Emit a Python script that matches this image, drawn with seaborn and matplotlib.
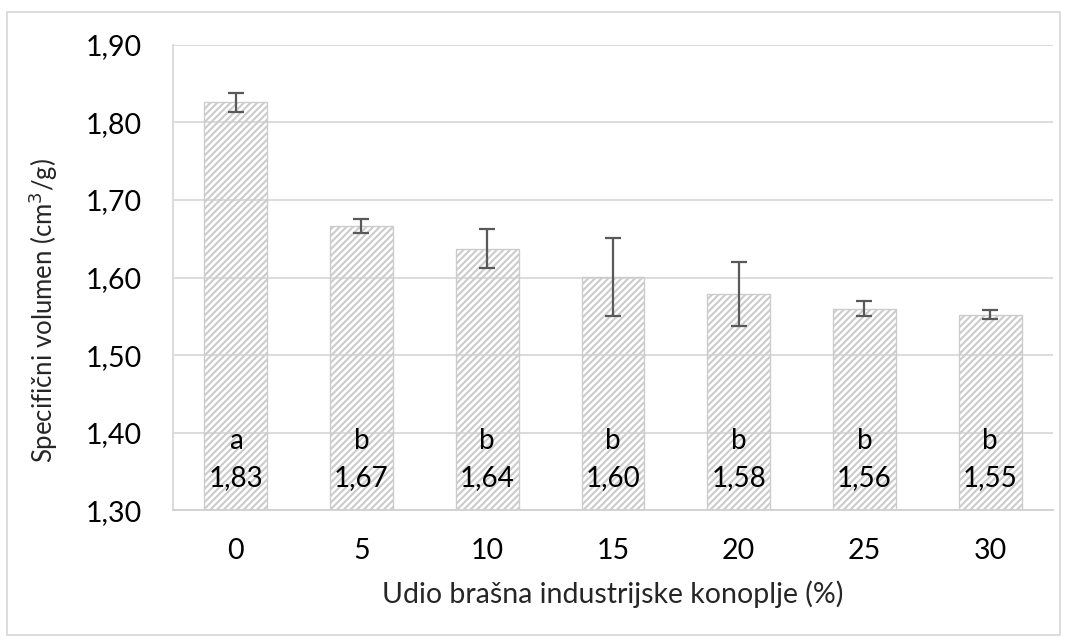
import numpy as np
import pandas as pd
import seaborn as sns
import matplotlib.pyplot as plt
import matplotlib.patches as mpatches
from matplotlib.ticker import FuncFormatter

# data
udio = ["0", "5", "10", "15", "20", "25", "30"]
volumen = [1.826, 1.667, 1.637, 1.601, 1.579, 1.560, 1.552]
sd = [0.012, 0.009, 0.025, 0.050, 0.041, 0.010, 0.006]
slova = ["a", "b", "b", "b", "b", "b", "b"]
oznake = ["1,83", "1,67", "1,64", "1,60", "1,58", "1,56", "1,55"]

sns.set_style("white")
plt.rcParams['font.family'] = ['Lato', 'DejaVu Sans']
plt.rcParams['hatch.color'] = '#c8c8c8'
plt.rcParams['hatch.linewidth'] = 1.5

df = pd.DataFrame({'udio': udio, 'volumen': volumen})

fig = plt.figure(figsize=(10.67, 6.41), dpi=100)
ax = fig.add_axes([0.162, 0.204, 0.825, 0.726])

sns.barplot(data=df, x='udio', y='volumen', order=udio, width=0.5,
            color='white', ax=ax, zorder=2)
for p in ax.patches:
    p.set_facecolor('none')
    p.set_edgecolor('#cccccc')
    p.set_hatch('/////')
    p.set_linewidth(1.0)

# error bars
xs = np.arange(len(udio))
ax.errorbar(xs, volumen, yerr=sd, fmt='none', ecolor='#595959',
            elinewidth=1.6, capsize=6, capthick=1.6, zorder=3)

# letters and values inside bars
for i in range(len(udio)):
    ax.text(xs[i], 1.389, slova[i], ha='center', va='center', fontsize=20, color='black', zorder=4)
    ax.text(xs[i], 1.341, oznake[i], ha='center', va='center', fontsize=20, color='black', zorder=4)

ax.set_ylim(1.30, 1.90)
ax.set_yticks(np.arange(1.30, 1.901, 0.10))
ax.yaxis.set_major_formatter(FuncFormatter(lambda v, pos: f"{v:.2f}".replace('.', ',')))
ax.set_xlim(-0.5, len(udio) - 0.5)
ax.grid(axis='y', color='#d9d9d9', linewidth=1.3, zorder=0)
ax.set_axisbelow(True)

for s in ['top', 'right']:
    ax.spines[s].set_visible(False)
ax.spines['left'].set_color('#d9d9d9')
ax.spines['left'].set_linewidth(1.3)
ax.spines['bottom'].set_color('#d0d0d0')
ax.spines['bottom'].set_linewidth(1.3)
ax.tick_params(axis='y', length=0, labelsize=20.5, pad=22, colors='black')
ax.tick_params(axis='x', length=0, labelsize=20.5, pad=20, colors='black')

ax.set_xlabel("Udio brašna industrijske konoplje (%)", fontsize=20.5, labelpad=12)
ax.set_ylabel("Specifični volumen (cm$^3$/g)", fontsize=18.5)
ax.yaxis.set_label_coords(-0.128, 0.43)

# outer frame like the spreadsheet chart area
fig.patches.append(mpatches.Rectangle((0.007, 0.01), 0.986, 0.972, transform=fig.transFigure,
                                      fill=False, edgecolor='#d9d9d9', linewidth=1.3))

fig.savefig("out.png", dpi=100)
